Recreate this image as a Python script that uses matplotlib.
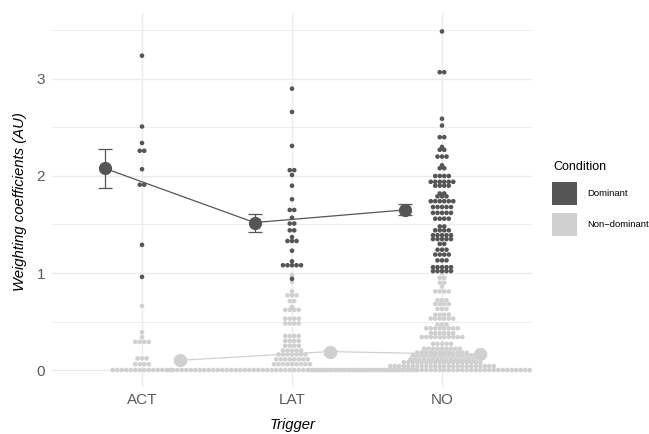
import matplotlib
matplotlib.use('Agg')
import matplotlib.pyplot as plt
from matplotlib.patches import Rectangle

plt.rcParams['font.family'] = ['Liberation Sans', 'DejaVu Sans']

triggers = ['ACT', 'LAT', 'NO']
conditions = ['Dominant', 'Non\u2212dominant']

# dot rows (binned values) and number of dots per row
act_dom_vals = [3.24, 2.51, 2.34, 2.26, 2.07, 1.91, 1.29, 0.96]
act_dom_counts = [1, 1, 1, 2, 1, 2, 1, 1]
act_nd_vals = [0.66, 0.39, 0.34, 0.29, 0.12, 0.06, 0.0]
act_nd_counts = [1, 1, 1, 4, 3, 4, 14]

lat_dom_vals = [2.90, 2.66, 2.31, 2.06, 2.01, 1.90, 1.76, 1.65, 1.57, 1.51,
                1.44, 1.37, 1.33, 1.23, 1.12, 1.08, 0.94]
lat_dom_counts = [1, 1, 1, 2, 1, 1, 1, 2, 1, 2, 2, 1, 3, 1, 1, 5, 1]
lat_nd_vals = [0.98, 0.91, 0.81, 0.77, 0.71, 0.65, 0.62, 0.53, 0.48, 0.35,
               0.30, 0.25, 0.20, 0.16, 0.11, 0.06, 0.0]
lat_nd_counts = [1, 1, 1, 3, 2, 1, 4, 4, 4, 4, 4, 4, 5, 7, 8, 9, 56]

no_dom_vals = [3.49, 3.07, 2.59, 2.52, 2.40, 2.30, 2.27, 2.20, 2.11, 2.08,
               2.00, 1.94, 1.90, 1.82, 1.79, 1.74, 1.68, 1.62, 1.56, 1.48,
               1.44, 1.39, 1.35, 1.30, 1.24, 1.19, 1.13, 1.06, 1.02]
no_dom_counts = [1, 2, 1, 1, 2, 1, 2, 3, 1, 2,
                 4, 6, 4, 2, 3, 6, 5, 5, 4, 2,
                 4, 5, 5, 2, 3, 4, 3, 5, 5]
no_nd_vals = [1.00, 0.95, 0.90, 0.86, 0.81, 0.72, 0.68, 0.63, 0.57, 0.53,
              0.47, 0.43, 0.38, 0.34, 0.27, 0.22, 0.18, 0.15, 0.11, 0.08,
              0.04, 0.0]
no_nd_counts = [1, 2, 2, 1, 4, 3, 4, 3, 4, 6,
                3, 8, 6, 10, 5, 9, 12, 14, 15, 18,
                24, 60]

# group means with error bars
dom_means = [2.08, 1.52, 1.65]
dom_lo = [1.88, 1.42, 1.60]
dom_hi = [2.28, 1.61, 1.71]
nd_means = [0.10, 0.19, 0.16]
nd_lo = [0.08, 0.17, 0.14]
nd_hi = [0.12, 0.21, 0.18]

DARK = '#555555'
LIGHT = '#d0d0d0'
TICK_COL = '#5a5a5a'

W, H = 649, 434
fig = plt.figure(figsize=(W / 100, H / 100), dpi=100)
px_l, px_r, px_t, px_b = 52, 532, 13, 387
ax = fig.add_axes([px_l / W, 1 - px_b / H, (px_r - px_l) / W, (px_b - px_t) / H])
ax.set_xlim(0.4, 3.6)
ax.set_ylim(-0.175, 3.68)

xpos = [1, 2, 3]
px_per_unit_x = (px_r - px_l) / 3.2
spacing = 4.5 / px_per_unit_x
dot_d_pt = 4.6 * 72 / 100


def draw_dots(xc, vals, counts, color, z):
    xs, ys = [], []
    for v, n in zip(vals, counts):
        for i in range(n):
            xs.append(xc + (i - (n - 1) / 2) * spacing)
            ys.append(v)
    ax.scatter(xs, ys, s=dot_d_pt ** 2, c=color, edgecolors='none', zorder=z)


nd_groups = [(act_nd_vals, act_nd_counts), (lat_nd_vals, lat_nd_counts), (no_nd_vals, no_nd_counts)]
dom_groups = [(act_dom_vals, act_dom_counts), (lat_dom_vals, lat_dom_counts), (no_dom_vals, no_dom_counts)]
for xc, (v, c) in zip(xpos, nd_groups):
    draw_dots(xc, v, c, LIGHT, 2)
for xc, (v, c) in zip(xpos, dom_groups):
    draw_dots(xc, v, c, DARK, 3)

dodge = 0.25
for means, lo, hi, col, off in [(dom_means, dom_lo, dom_hi, DARK, -dodge),
                                 (nd_means, nd_lo, nd_hi, LIGHT, dodge)]:
    xs = [x + off for x in xpos]
    yerr = [[m - l for m, l in zip(means, lo)], [h - m for m, h in zip(means, hi)]]
    ax.plot(xs, means, '-', color=col, lw=0.9, zorder=4)
    ax.errorbar(xs, means, yerr=yerr, fmt='o', color=col, ms=8.5, capsize=5,
                elinewidth=0.9, capthick=0.9, zorder=5)

ax.set_xticks(xpos)
ax.set_xticklabels(triggers)
ax.set_yticks([0, 1, 2, 3])
ax.set_yticks([0.5, 1.5, 2.5, 3.5], minor=True)
ax.grid(which='major', color='#EBEBEB', lw=1.0, zorder=0)
ax.grid(which='minor', axis='y', color='#EBEBEB', lw=0.6, zorder=0)
ax.set_axisbelow(True)
for s in ax.spines.values():
    s.set_visible(False)
ax.tick_params(which='both', length=0)
ax.tick_params(axis='y', pad=5, labelsize=11, labelcolor=TICK_COL)
ax.tick_params(axis='x', pad=4, labelsize=11, labelcolor=TICK_COL)

fig.text(293 / W, 1 - 425 / H, 'Trigger', style='italic', fontsize=10.7,
         ha='center', va='center')
fig.text(20 / W, 1 - 202 / H, 'Weighting coefficients (AU)', style='italic',
         fontsize=10.7, rotation=90, ha='center', va='center')

# legend
fig.text(553 / W, 1 - 167 / H, 'Condition', fontsize=9, ha='left', va='center')
for (y0, y1), col, lab in [((182, 205), DARK, conditions[0]), ((213, 236), LIGHT, conditions[1])]:
    fig.add_artist(Rectangle((552 / W, 1 - y1 / H), 25 / W, (y1 - y0) / H,
                             transform=fig.transFigure, facecolor=col, edgecolor='none'))
    fig.text(587 / W, 1 - ((y0 + y1) / 2) / H, lab, fontsize=6.8, ha='left', va='center')

fig.savefig('out.png', dpi=100)
